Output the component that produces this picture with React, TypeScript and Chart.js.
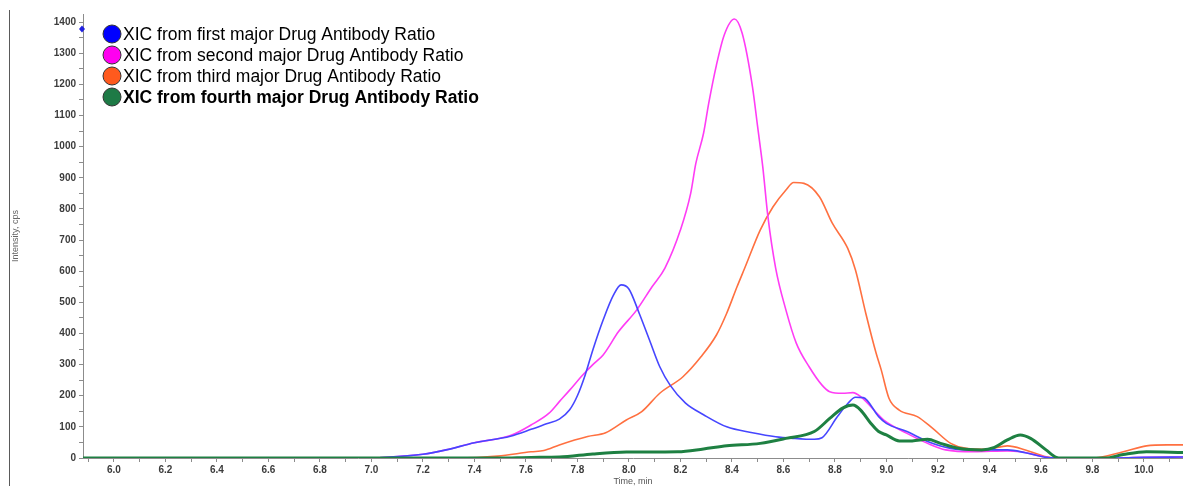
import React, { useEffect, useRef } from "react";
import { Chart, registerables } from "chart.js";

Chart.register(...registerables);

const W = 1183;
const H = 487;

// ---- Data (Time, min / Intensity, cps) ----
const firstTime = [5.88, 7.0, 7.03, 7.2, 7.29, 7.4, 7.54, 7.62, 7.68, 7.73, 7.77, 7.8, 7.83, 7.86, 7.9, 7.94, 7.97, 8.0, 8.04, 8.08, 8.12, 8.16, 8.22, 8.29, 8.38, 8.48, 8.57, 8.64, 8.72, 8.75, 8.81, 8.85, 8.88, 8.91, 8.97, 9.0, 9.08, 9.16, 9.25, 9.34, 9.47, 9.54, 9.62, 9.66, 9.9, 10.0, 10.152];
const firstIntensity = [0, 0, 1, 12, 26, 49, 70, 92, 110, 125, 155, 200, 266, 347, 443, 523, 556, 543, 465, 379, 293, 234, 176, 139, 100, 81, 68, 63, 60, 65, 133, 175, 195, 194, 133, 111, 85, 53, 31, 26, 26, 17, 2, 0, 0, 2, 3];

const secondTime = [5.88, 7.0, 7.03, 7.2, 7.29, 7.4, 7.54, 7.62, 7.69, 7.73, 7.77, 7.82, 7.86, 7.9, 7.96, 8.03, 8.09, 8.14, 8.2, 8.24, 8.26, 8.29, 8.31, 8.34, 8.37, 8.41, 8.44, 8.48, 8.5, 8.52, 8.54, 8.57, 8.61, 8.65, 8.7, 8.75, 8.78, 8.83, 8.87, 8.9, 8.97, 8.99, 9.08, 9.16, 9.23, 9.34, 9.47, 9.52, 9.6, 9.65, 9.9, 10.0, 10.152];
const secondIntensity = [0, 0, 1, 12, 26, 49, 72, 106, 144, 181, 218, 266, 300, 331, 406, 475, 550, 610, 732, 850, 946, 1043, 1139, 1262, 1358, 1410, 1364, 1192, 1064, 935, 775, 610, 475, 369, 293, 234, 213, 208, 210, 197, 138, 122, 79, 47, 26, 20, 23, 20, 6, 0, 0, 2, 3];

const thirdTime = [5.88, 7.33, 7.49, 7.62, 7.67, 7.73, 7.84, 7.91, 7.99, 8.05, 8.12, 8.21, 8.28, 8.34, 8.38, 8.42, 8.45, 8.51, 8.56, 8.61, 8.64, 8.68, 8.74, 8.79, 8.85, 8.88, 8.92, 8.96, 8.98, 9.01, 9.05, 9.12, 9.18, 9.25, 9.31, 9.39, 9.47, 9.54, 9.62, 9.67, 9.8, 9.92, 10.01, 10.09, 10.152];
const thirdIntensity = [0, 0, 6, 20, 24, 42, 69, 81, 122, 149, 208, 261, 325, 395, 465, 550, 610, 732, 807, 861, 885, 882, 839, 754, 673, 604, 465, 337, 283, 192, 154, 133, 95, 47, 31, 28, 39, 26, 4, 0, 0, 20, 39, 42, 42];

const fourthTime = [5.88, 7.5, 7.62, 7.73, 7.86, 7.99, 8.19, 8.29, 8.38, 8.51, 8.61, 8.72, 8.78, 8.83, 8.87, 8.9, 8.94, 8.97, 9.0, 9.05, 9.1, 9.16, 9.21, 9.28, 9.37, 9.42, 9.47, 9.52, 9.56, 9.62, 9.66, 9.68, 9.85, 9.92, 10.01, 10.152];
const fourthIntensity = [0, 0, 2, 3, 13, 19, 20, 29, 39, 47, 63, 85, 127, 160, 170, 154, 111, 85, 74, 55, 55, 60, 47, 31, 26, 34, 58, 74, 63, 26, 2, 0, 0, 11, 20, 18];

const seriesNames = [
  "XIC from first major Drug Antibody Ratio",
  "XIC from second major Drug Antibody Ratio",
  "XIC from third major Drug Antibody Ratio",
  "XIC from fourth major Drug Antibody Ratio",
];
const lineColors = ["#4646ff", "#ff3cf5", "#ff7040", "#1e8042"];
const markerColors = ["#0000ff", "#ff00f0", "#ff5a1e", "#1e7a46"];
const xAxisTitle = "Time, min";
const yAxisTitle = "Intensity, cps";

const toPoints = (t: number[], v: number[]) => t.map((x, i) => ({ x, y: v[i] }));

const tickFont = { family: '"Liberation Sans", Arial, sans-serif', size: 10, weight: "bold" as const };
const tickColor = "#3c3c3c";

const decorPlugin = {
  id: "decor",
  afterDraw(chart: any) {
    const ctx = chart.ctx as CanvasRenderingContext2D;
    ctx.save();
    // left frame line
    ctx.strokeStyle = "#5a5a5a";
    ctx.lineWidth = 1;
    ctx.beginPath();
    ctx.moveTo(9.5, 10);
    ctx.lineTo(9.5, 486);
    ctx.stroke();
    // small marker on y axis
    const ya = chart.scales.y;
    const my = ya.getPixelForValue(1378);
    const mx = chart.chartArea.left - 1;
    ctx.fillStyle = "#2020e0";
    ctx.beginPath();
    ctx.moveTo(mx, my - 3.5);
    ctx.lineTo(mx + 3, my);
    ctx.lineTo(mx, my + 3.5);
    ctx.lineTo(mx - 3, my);
    ctx.closePath();
    ctx.fill();
    // legend
    seriesNames.forEach((name, i) => {
      const cy = 34 + i * 21;
      ctx.beginPath();
      ctx.arc(112, cy, 9, 0, Math.PI * 2);
      ctx.fillStyle = markerColors[i];
      ctx.fill();
      ctx.strokeStyle = "#333";
      ctx.lineWidth = 1;
      ctx.stroke();
      ctx.fillStyle = "#000";
      ctx.textBaseline = "middle";
      ctx.textAlign = "left";
      ctx.font = `${i === 3 ? "bold " : ""}17.5px "Liberation Sans", Arial, sans-serif`;
      ctx.fillText(name, 123, cy + 1);
    });
    ctx.restore();
  },
};

export default function App() {
  const ref = useRef<HTMLCanvasElement | null>(null);

  useEffect(() => {
    if (!ref.current) return;
    const times = [firstTime, secondTime, thirdTime, fourthTime];
    const vals = [firstIntensity, secondIntensity, thirdIntensity, fourthIntensity];
    const orders = [1, 2, 3, 0];
    const chart = new Chart(ref.current, {
      type: "line",
      data: {
        datasets: seriesNames.map((name, i) => ({
          label: name,
          data: toPoints(times[i], vals[i]),
          borderColor: lineColors[i],
          backgroundColor: lineColors[i],
          borderWidth: i === 3 ? 3 : 1.6,
          pointRadius: 0,
          fill: false,
          cubicInterpolationMode: "monotone" as const,
          order: orders[i],
        })),
      },
      options: {
        animation: false,
        responsive: false,
        maintainAspectRatio: false,
        layout: { padding: { top: 14, left: 0, right: 0, bottom: 0 } },
        plugins: { legend: { display: false }, tooltip: { enabled: false } },
        scales: {
          x: {
            type: "linear",
            min: 5.88,
            max: 10.152,
            afterFit: (s: any) => {
              s.height = 29;
            },
            ticks: {
              stepSize: 0.1,
              autoSkip: false,
              maxRotation: 0,
              minRotation: 0,
              includeBounds: false,
              padding: 2,
              font: tickFont,
              color: tickColor,
              callback: (value: any) => {
                const v = Number(value);
                const r = Math.round(v * 10);
                if (Math.abs(v * 10 - r) > 1e-6 || r % 2 !== 0) return "";
                return (r / 10).toFixed(1);
              },
            },
            grid: { drawOnChartArea: false, drawTicks: true, tickLength: 4, color: "#8c8c8c" },
            border: { display: true, color: "#8c8c8c", width: 1 },
            title: {
              display: true,
              text: xAxisTitle,
              color: "#555",
              font: { family: '"Liberation Sans", Arial, sans-serif', size: 9 },
              padding: { top: 0, bottom: 0 },
            },
          },
          y: {
            type: "linear",
            min: 0,
            max: 1426,
            afterFit: (s: any) => {
              s.width = 83;
            },
            ticks: {
              stepSize: 50,
              autoSkip: false,
              includeBounds: false,
              padding: 3,
              font: tickFont,
              color: tickColor,
              callback: (value: any) => {
                const v = Math.round(Number(value));
                return v % 100 === 0 ? String(v) : "";
              },
            },
            grid: { drawOnChartArea: false, drawTicks: true, tickLength: 4, color: "#8c8c8c" },
            border: { display: true, color: "#8c8c8c", width: 1 },
            title: {
              display: true,
              text: yAxisTitle,
              color: "#666",
              font: { family: '"Liberation Sans", Arial, sans-serif', size: 9 },
              padding: { top: 10, bottom: 0 },
            },
          },
        },
      },
      plugins: [decorPlugin],
    });
    return () => chart.destroy();
  }, []);

  return (
    <div style={{ position: "fixed", left: 0, top: 0, width: W, height: H, background: "#fff" }}>
      <canvas ref={ref} width={W} height={H} style={{ display: "block", width: W, height: H }} />
    </div>
  );
}
